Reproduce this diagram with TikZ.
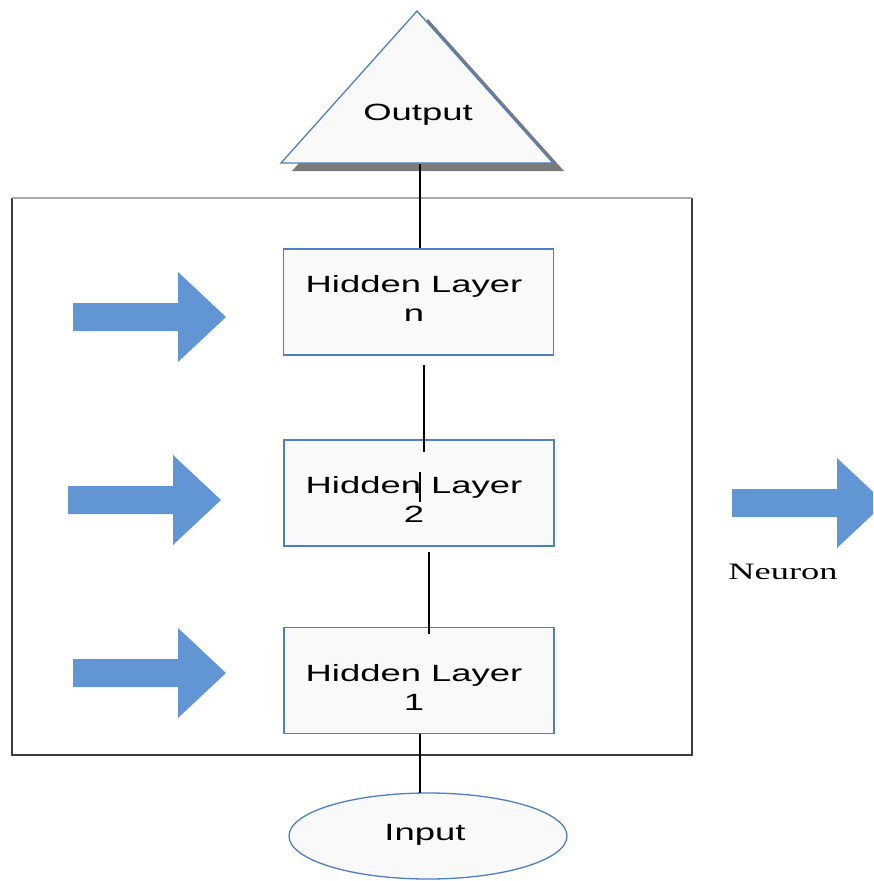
\documentclass[tikz,border=0pt]{standalone}
\usepackage{fontspec}
\newfontfamily\wsans[FakeStretch=1.55]{Liberation Sans}
\newfontfamily\wserif[FakeStretch=1.55]{Liberation Serif}
\definecolor{bordblue}{HTML}{4F7FBE}
\definecolor{arrowblue}{HTML}{6195D4}
\definecolor{boxfill}{HTML}{F9F9F9}
\definecolor{shadowgray}{HTML}{7A7A7A}
\definecolor{framedark}{HTML}{3A3A3A}
\definecolor{framelight}{HTML}{A8A8A8}
\tikzset{
  layerbox/.style={draw=bordblue, fill=boxfill, line width=1.3pt, minimum width=270pt, minimum height=106pt, inner sep=0pt},
  layertext/.style={font=\wsans\fontsize{23.5}{29}\selectfont, align=center, inner sep=0pt},
  conn/.style={draw=black, line width=1.1pt},
  blockarrow/.pic={\fill[arrowblue] (0,-14) -- (105,-14) -- (105,-45) -- (153,0) -- (105,45) -- (105,14) -- (0,14) -- cycle;}
}
\begin{document}
\begin{tikzpicture}[x=1pt,y=-1pt]
\useasboundingbox (0,0) rectangle (873,881);
\clip (0,0) rectangle (873,881);
\fill[white] (0,0) rectangle (873,881);
% outer frame
\draw[framedark, line width=1.5pt] (12,198) -- (12,755) -- (692,755) -- (692,198);
\draw[framelight, line width=1.5pt] (12,198) -- (692,198);
% output triangle with shadow
\fill[shadowgray] (428,19) -- (564,171) -- (292,171) -- cycle;
\draw[bordblue, fill=boxfill, line width=1.3pt] (417,11) -- (553,163) -- (281,163) -- cycle;
\node[font=\wsans\fontsize{23.5}{28}\selectfont, inner sep=0pt] (output) at (418,115) {Output};
\coordinate (outbase) at (420,164);
% hidden layers
\node[layerbox] (hn) at (418.5,302) {};
\node[layerbox] (h2) at (419,493) {};
\node[layerbox] (h1) at (419,680.5) {};
\node[layertext] (hnt) at (414,298) {Hidden Layer\\n};
\node[layertext] (h2t) at (414,499) {Hidden Layer\\2};
\node[layertext] (h1t) at (414,687) {Hidden Layer\\1};
% input ellipse
\draw[bordblue, fill=boxfill, line width=1.3pt] (428,836) ellipse [x radius=139, y radius=43];
\node[font=\wsans\fontsize{23.5}{28}\selectfont, inner sep=0pt] (input) at (425,835) {Input};
\coordinate (intop) at (420,793);
% connectors
\coordinate (c1a) at (424,365);
\coordinate (c1b) at (424,452);
\coordinate (c2a) at (420,472);
\coordinate (c2b) at (420,502);
\coordinate (c3a) at (429,552);
\coordinate (c3b) at (429,634);
\coordinate (c4a) at (420,734);
\draw[conn] (outbase) -- (outbase |- hn.north);
\draw[conn] (c1a) -- (c1b);
\draw[conn] (c2a) -- (c2b);
\draw[conn] (c3a) -- (c3b);
\draw[conn] (c4a) -- (intop);
% block arrows
\pic at (73,317) {blockarrow};
\pic at (68,500) {blockarrow};
\pic at (73,673) {blockarrow};
\pic at (732,503) {blockarrow};
\node[font=\wserif\fontsize{23.5}{28}\selectfont, inner sep=0pt] (neuron) at (783,572) {Neuron};
\end{tikzpicture}
\end{document}
